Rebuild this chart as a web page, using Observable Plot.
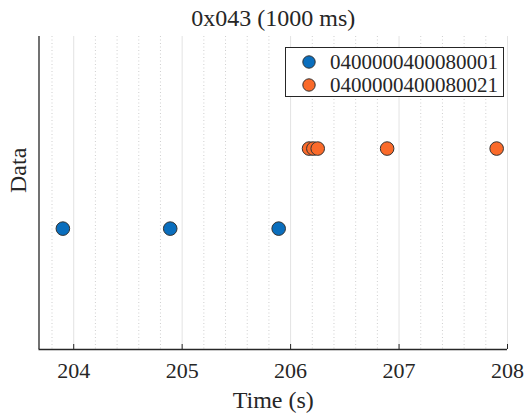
<!DOCTYPE html>
<html>
<head>
<meta charset="utf-8">
<script src="https://cdn.jsdelivr.net/npm/d3@7"></script>
<script src="https://cdn.jsdelivr.net/npm/@observablehq/plot@0.6"></script>
<style>
  html, body { margin: 0; padding: 0; background: #fff; }
  #wrap { position: relative; width: 528px; height: 415px; font-family: "Liberation Serif", "Times New Roman", serif; }
  #legend { position: absolute; left: 285px; top: 47px; width: 219px; height: 50px; border: 1px solid #262626; background: #fff; box-sizing: border-box; }
  .row { position: absolute; left: 0; height: 22px; display: flex; align-items: center; font-family: "Liberation Serif", serif; font-size: 21px; color: #262626; white-space: nowrap; }
  .row svg { margin-left: 16px; margin-right: 14px; }
</style>
</head>
<body>
<div id="wrap"></div>
<script>
// ---- data ----
const seriesNames = ["0400000400080001", "0400000400080021"];
const seriesColors = ["#0A6EBD", "#FA6A2A"];
const seriesLevel = [1, 2];
const times1 = [203.9, 204.89, 205.89];
const times2 = [206.17, 206.21, 206.25, 206.89, 207.9];
const xDomain = [203.68, 208];
const yDomain = [-0.51, 3.4];
const majorTicks = [204, 205, 206, 207, 208];
const minorTicks = [203.8, 204.2, 204.4, 204.6, 204.8, 205.2, 205.4, 205.6, 205.8,
                    206.2, 206.4, 206.6, 206.8, 207.2, 207.4, 207.6, 207.8];
const titleText = "0x043 (1000 ms)";
const xLabel = "Time (s)";
const yLabel = "Data";

const points = [
  ...times1.map(t => ({t, v: seriesLevel[0], s: seriesNames[0]})),
  ...times2.map(t => ({t, v: seriesLevel[1], s: seriesNames[1]}))
];

const ink = "#262626";
const serif = "'Liberation Serif', 'Times New Roman', serif";
const chart = Plot.plot({
  width: 528,
  height: 415,
  marginLeft: 38.5,
  marginRight: 21,
  marginTop: 36,
  marginBottom: 66,
  style: {fontFamily: serif, background: "#fff", color: ink},
  x: {domain: xDomain, axis: null},
  y: {domain: yDomain, axis: null},
  color: {domain: seriesNames, range: seriesColors},
  marks: [
    Plot.ruleX(minorTicks, {x: d => d, stroke: "#cfcfcf", strokeDasharray: "1,2.5", strokeWidth: 1}),
    Plot.ruleX(majorTicks, {x: d => d, stroke: "#e3e3e3", strokeWidth: 1}),
    Plot.ruleX(majorTicks, {x: d => d, y1: yDomain[0], y2: yDomain[0], insetTop: -5, stroke: ink, strokeWidth: 1}),
    Plot.ruleX([xDomain[0]], {stroke: ink, strokeWidth: 1.3}),
    Plot.ruleY([yDomain[0]], {stroke: ink, strokeWidth: 1.3}),
    Plot.text(majorTicks, {x: d => d, text: d => String(d), frameAnchor: "bottom", dy: 21, lineAnchor: "middle", fontSize: 22, fontFamily: serif, fill: ink}),
    Plot.dot(points, {x: "t", y: "v", fill: "s", r: 6.8, stroke: "#333", strokeWidth: 1}),
    Plot.text([titleText], {frameAnchor: "top", dy: -18, lineAnchor: "middle", fontSize: 24, fontFamily: serif, fill: ink}),
    Plot.text([xLabel], {frameAnchor: "bottom", dy: 51, lineAnchor: "middle", fontSize: 24, fontFamily: serif, fill: ink}),
    Plot.text([yLabel], {frameAnchor: "left", dx: -21, rotate: -90, lineAnchor: "middle", fontSize: 24, fontFamily: serif, fill: ink})
  ]
});
const wrap = document.getElementById("wrap");
wrap.appendChild(chart);

// legend overlay
const legend = document.createElement("div");
legend.id = "legend";
seriesNames.forEach((name, i) => {
  const row = document.createElement("div");
  row.className = "row";
  row.style.top = (3 + i * 23) + "px";
  row.innerHTML = `<svg width="14" height="14"><circle cx="7" cy="7" r="6.2" fill="${seriesColors[i]}" stroke="#333" stroke-width="1"/></svg><span>${name}</span>`;
  legend.appendChild(row);
});
wrap.appendChild(legend);
</script>
</body>
</html>
